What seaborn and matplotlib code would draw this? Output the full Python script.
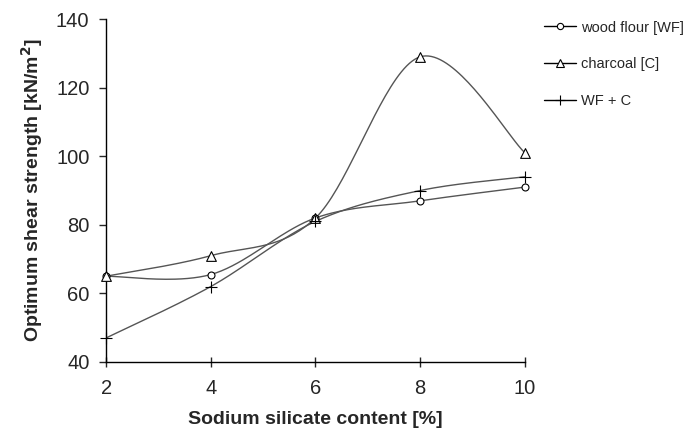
import numpy as np
import pandas as pd
import matplotlib
matplotlib.use("Agg")
import matplotlib.pyplot as plt
import seaborn as sns

sns.set_style("white")
plt.rcParams['font.family'] = ['Liberation Sans', 'DejaVu Sans']

# data
silicate = [2, 4, 6, 8, 10]
wood_flour = [65, 65.5, 82, 87, 91]
charcoal = [65, 71, 82, 129, 101]
wf_c = [47, 62, 81, 90, 94]

series = {
    "wood flour [WF]": (wood_flour, "o", 5),
    "charcoal [C]": (charcoal, "^", 7),
    "WF + C": (wf_c, "+", 8),
}


def smooth(x, y, n=40):
    # Excel-like smoothed line (Catmull-Rom through the points)
    x = np.asarray(x, float)
    y = np.asarray(y, float)
    px = np.concatenate([[x[0]], x, [x[-1]]])
    py = np.concatenate([[y[0]], y, [y[-1]]])
    xs, ys = [], []
    t = np.linspace(0, 1, n)
    for i in range(1, len(px) - 2):
        for arr, out in ((px, xs), (py, ys)):
            p0, p1, p2, p3 = arr[i - 1], arr[i], arr[i + 1], arr[i + 2]
            c1 = p1 + (p2 - p0) / 6
            c2 = p2 - (p3 - p1) / 6
            out.append((1 - t) ** 3 * p1 + 3 * (1 - t) ** 2 * t * c1
                       + 3 * (1 - t) * t ** 2 * c2 + t ** 3 * p2)
    return np.concatenate(xs), np.concatenate(ys)


fig = plt.figure(figsize=(6.98, 4.34), dpi=100)
ax = fig.add_axes([0.152, 0.166, 0.600, 0.790])

handles = []
for name, (vals, mk, ms) in series.items():
    sx, sy = smooth(silicate, vals)
    sns.lineplot(x=sx, y=sy, ax=ax, color="#555555", linewidth=1.0, sort=False)
    sns.scatterplot(x=silicate, y=vals, ax=ax, marker=mk, s=ms ** 2,
                    facecolor="white" if mk != "+" else "black",
                    edgecolor="black", linewidth=0.8, zorder=3, clip_on=False)
    h, = ax.plot([], [], color="black", linewidth=1.0, marker=mk, markersize=ms * 0.9,
                 markerfacecolor="white", markeredgecolor="black", markeredgewidth=0.8)
    handles.append((h, name))

ax.set_xlim(2, 10)
ax.set_ylim(40, 140)
ax.set_xticks([2, 4, 6, 8, 10])
ax.set_yticks(range(40, 141, 20))
for s in ["top", "right"]:
    ax.spines[s].set_visible(False)
for s in ["left", "bottom"]:
    ax.spines[s].set_color("black")
    ax.spines[s].set_linewidth(1.0)
ax.tick_params(axis="y", direction="out", length=5, width=1, labelsize=14.5, pad=7, left=True)
ax.tick_params(axis="x", direction="inout", length=7, width=1, labelsize=14.5, pad=9, bottom=True)

ax.set_xlabel("Sodium silicate content [%]", fontsize=14, fontweight="bold", labelpad=9)
ax.set_ylabel("Optimum shear strength [kN/m$^\\mathbf{2}$]", fontsize=14, fontweight="bold", labelpad=8)

fig.legend([h for h, _ in handles], [n for _, n in handles],
           loc="upper left", bbox_to_anchor=(0.761, 0.983), frameon=False,
           fontsize=10.5, handlelength=2.2, handletextpad=0.35, labelspacing=1.55)

fig.savefig("out.png", dpi=100)
